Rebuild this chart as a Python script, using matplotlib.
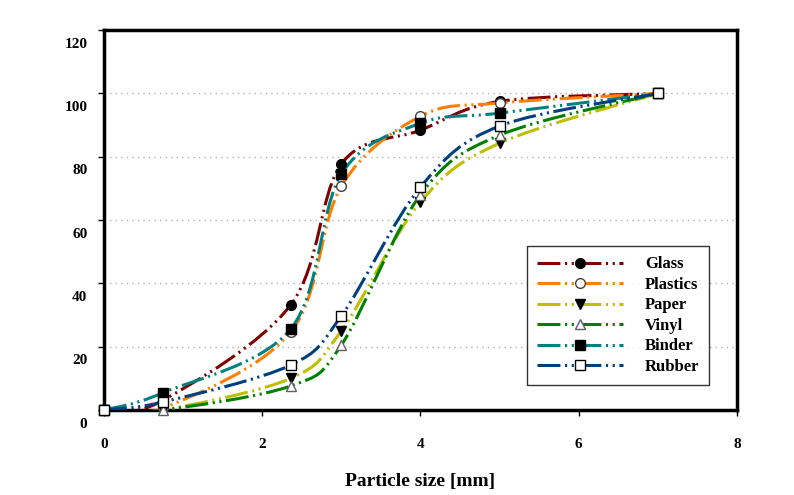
import numpy as np
import matplotlib
matplotlib.use("Agg")
from matplotlib import pyplot as plt
from matplotlib.path import Path
from matplotlib.patches import PathPatch
from matplotlib.lines import Line2D
from matplotlib.transforms import ScaledTranslation

# particle size [mm]
sizes = [0, 0.74, 2.36, 3.0, 4.0, 5.0, 7.0]

glass    = [0, 3.0, 33.2, 77.7, 88.4, 97.5, 100]
plastics = [0, 0.5, 24.6, 70.7, 92.8, 97.0, 100]
paper    = [0, 0.0, 10.0, 25.0, 65.7, 84.3, 100]
vinyl    = [0, 0.0, 7.6, 20.5, 68.0, 86.8, 100]
binder   = [0, 5.4, 25.6, 74.5, 90.6, 93.8, 100]
rubber   = [0, 2.5, 14.2, 29.7, 70.4, 89.7, 100]

names = ["Glass", "Plastics", "Paper", "Vinyl", "Binder", "Rubber"]
series = [glass, plastics, paper, vinyl, binder, rubber]
colors = ["#800000", "#FF8000", "#BFBF00", "#008000", "#008080", "#003F7F"]
markers = ["o", "o", "v", "^", "s", "s"]
faces = ["black", "white", "black", "white", "black", "white"]
edges = ["black", "#404040", "black", "#606060", "black", "black"]

yticks = [0, 20, 40, 60, 80, 100, 120]
xticks = [0, 2, 4, 6, 8]

dashes = (0, (7.5, 1.5, 0.7, 1.5, 0.7, 1.5))


def smooth_path(x, y):
    # catmull-rom style smoothing like spreadsheet "smoothed line"
    pts = np.column_stack([x, y]).astype(float)
    verts = [pts[0]]
    codes = [Path.MOVETO]
    n = len(pts)
    for i in range(n - 1):
        p0 = pts[i - 1] if i > 0 else pts[i]
        p1 = pts[i]
        p2 = pts[i + 1]
        p3 = pts[i + 2] if i + 2 < n else pts[i + 1]
        c1 = p1 + (p2 - p0) / 6.0
        c2 = p2 - (p3 - p1) / 6.0
        verts += [c1, c2, p2]
        codes += [Path.CURVE4] * 3
    return Path(verts, codes)


plt.rcParams['font.family'] = ['Liberation Serif', 'DejaVu Serif']
fig = plt.figure(figsize=(7.94, 4.95), dpi=100)
ax = fig.add_axes([0.131, 0.1717, 0.797, 0.7673])

ax.set_xlim(0, 8)
ax.set_ylim(0, 120)
for yv in yticks[1:-1]:
    ax.axhline(yv, color="#b0b0b0", lw=1, ls=(0, (1, 3)), zorder=0)

handles = []
for i, (name, ys) in enumerate(zip(names, series)):
    patch = PathPatch(smooth_path(sizes, ys), fill=False, edgecolor=colors[i],
                      lw=2.2, linestyle=dashes, zorder=2 + i, capstyle="butt")
    ax.add_patch(patch)
    ax.plot(sizes, ys, ls="none", marker=markers[i], ms=7,
            mfc=faces[i], mec=edges[i], mew=1, zorder=10 + i, clip_on=False)
    handles.append(Line2D([], [], color=colors[i], lw=2.2, ls=dashes,
                          marker=markers[i], ms=7, mfc=faces[i],
                          mec=edges[i], mew=1))

ax.set_xticks(xticks)
ax.set_yticks(yticks)
ax.tick_params(direction="out", length=4, width=1, labelsize=11, pad=16)
ax.tick_params(axis="y", pad=8)
for lab in ax.get_xticklabels() + ax.get_yticklabels():
    lab.set_fontweight("bold")
for lab in ax.get_yticklabels():
    lab.set_transform(lab.get_transform() + ScaledTranslation(0, -9 / 72, fig.dpi_scale_trans))
for sp in ax.spines.values():
    sp.set_linewidth(2.5)

ax.set_xlabel("Particle size [mm]", fontsize=14, fontweight="bold", labelpad=16)

leg = ax.legend(handles, names, loc="lower left", bbox_to_anchor=(0.668, 0.066),
                numpoints=1, handlelength=5.2, handletextpad=1.3, labelspacing=0.27,
                fontsize=12, frameon=True, fancybox=False, borderpad=0.6,
                borderaxespad=0)
leg.get_frame().set_edgecolor("black")
leg.get_frame().set_linewidth(1)
for t in leg.get_texts():
    t.set_fontweight("bold")

fig.savefig("out.png", dpi=100)
